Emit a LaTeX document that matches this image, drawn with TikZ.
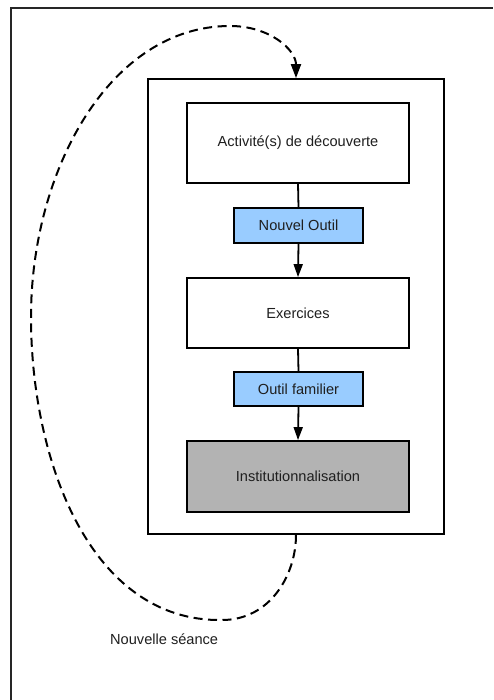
\documentclass[tikz,border=0pt]{standalone}
\usepackage{fontspec}
\setmainfont{Liberation Sans}
\usetikzlibrary{arrows.meta}
\definecolor{toolblue}{HTML}{99CCFF}
\definecolor{instgray}{HTML}{B3B3B3}
\begin{document}
\begin{tikzpicture}[x=1pt,y=-1pt,
  every node/.style={font=\fontsize{14.6pt}{17pt}\selectfont, text=black!88},
  bigbox/.style={draw=black, line width=1.8pt, minimum width=222pt, minimum height=80pt, inner sep=0pt},
  toolbox/.style={draw=black, line width=1.2pt, fill=toolblue, minimum width=129pt, minimum height=35pt, inner sep=0pt},
  framebox/.style={draw=black, line width=1.8pt, minimum width=296pt, minimum height=455pt, inner sep=0pt},
  flow/.style={line width=1.8pt},
  flowarrow/.style={line width=1.8pt, -{Triangle[length=13pt,width=9pt]}},
  loop/.style={line width=2pt, dash pattern=on 9pt off 5.5pt, -{Triangle[length=14pt,width=10pt]}}
]
\useasboundingbox (0,0) rectangle (493,700);
\fill[white] (0,0) rectangle (493,700);
% outer frame (only top and left edges visible)
\coordinate (ofbl) at (11,700);
\coordinate (oftl) at (11,8);
\coordinate (oftr) at (493,8);
\draw[line width=1.6pt, draw=black!85] (ofbl) -- (oftl) -- (oftr);

\node[framebox] (frame) at (296,306.5) {};
\node[bigbox] (act) at (298,143) {Activité(s) de découverte};
\node[toolbox] (nouv) at (298.5,225.5) {Nouvel Outil};
\node[bigbox, minimum height=70pt] (exo) at (298,313) {Exercices};
\node[toolbox, minimum height=34pt] (fam) at (298.5,389) {Outil familier};
\node[bigbox, minimum height=71pt, fill=instgray] (inst) at (298,476.5) {Institutionnalisation};

\draw[flow] (act.south) -- (nouv.north);
\draw[flowarrow] (nouv.south) -- (exo.north);
\draw[flow] (exo.south) -- (fam.north);
\draw[flowarrow] (fam.south) -- (inst.north);

\draw[loop] (frame.south) .. controls (296,575) and (270,620) .. (222,620)
  .. controls (90,622) and (31,460) .. (31,317)
  .. controls (31,170) and (110,26) .. (230,26)
  .. controls (270,26) and (296,50) .. (frame.north);

\node[anchor=west, inner sep=0pt] (seance) at (110,639) {Nouvelle séance};
\end{tikzpicture}
\end{document}
